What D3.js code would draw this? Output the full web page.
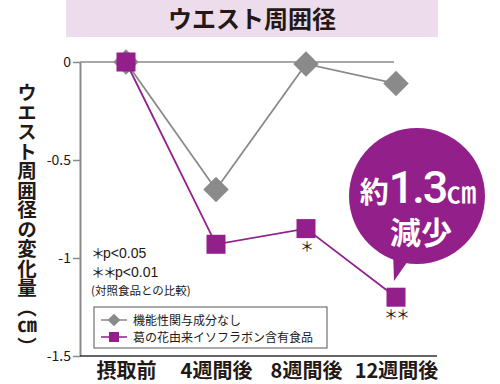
<!DOCTYPE html>
<html><head><meta charset="utf-8">
<script src="https://cdn.jsdelivr.net/npm/d3@7"></script>
<style>
html,body{margin:0;padding:0;background:#fff;}
text{font-family:"Noto Sans CJK JP","Noto Sans",sans-serif;}
</style></head>
<body>
<svg id="c" width="500" height="384"></svg>
<script>
const title = "ウエスト周囲径";
const yTitle = "ウエスト周囲径の変化量（㎝）";
const categories = ["摂取前","4週間後","8週間後","12週間後"];
const seriesNames = ["機能性関与成分なし","葛の花由来イソフラボン含有食品"];
const controlValues = [0, -0.65, -0.01, -0.11];
const treatmentValues = [0, -0.93, -0.85, -1.2];
const significance = ["", "", "＊", "＊＊"];
const yTicks = [0, -0.5, -1, -1.5];
const yTickLabels = ["0","-0.5","-1","-1.5"];
const noteStars = ["＊","＊＊"];
const noteTexts = ["p<0.05","p<0.01"];
const noteCompare = "(対照食品との比較)";
const calloutLine1 = ["約","1.3","㎝"];
const calloutLine2 = "減少";

const purple = "#931f8b", grey = "#8a8a8a", dark = "#231815";
const svg = d3.select("#c");

// title band
svg.append("rect").attr("x",66).attr("y",0).attr("width",372).attr("height",37).attr("fill","#eddcec");
svg.append("text").attr("x",252).attr("y",28).attr("text-anchor","middle")
  .attr("font-size",24).attr("font-weight",700).attr("fill",dark).text(title);

const x = d3.scalePoint().domain(categories).range([126,396]);
const y = d3.scaleLinear().domain([0,-1.5]).range([62,356]);

// zero line
svg.append("line").attr("x1",80).attr("x2",394).attr("y1",y(0)).attr("y2",y(0))
  .attr("stroke",grey).attr("stroke-width",1.5);

// y axis
const ya = svg.append("g").attr("transform","translate(80,0)")
  .call(d3.axisLeft(y).tickValues(yTicks).tickFormat((d,i)=>yTickLabels[i]).tickSize(7).tickSizeOuter(0).tickPadding(2));
ya.select(".domain").attr("stroke",grey).attr("stroke-width",2);
ya.selectAll(".tick line").attr("stroke",grey).attr("stroke-width",1.5);
ya.selectAll(".tick text").attr("font-size",14).attr("fill",dark)
  .attr("font-family","'Liberation Sans',Arial,sans-serif");

// baseline
svg.append("line").attr("x1",80).attr("x2",437).attr("y1",y(-1.5)).attr("y2",y(-1.5))
  .attr("stroke","#333").attr("stroke-width",1.5);

// x axis labels
const xa = svg.append("g").attr("transform","translate(0,358)")
  .call(d3.axisBottom(x).tickSize(0).tickPadding(6));
xa.select(".domain").remove();
xa.selectAll(".tick text").attr("font-size",20).attr("font-weight",700).attr("fill",dark)
  .attr("font-family","'Noto Sans CJK JP',sans-serif");

// y title vertical
svg.append("text").attr("x",27).attr("y",83)
  .style("writing-mode","vertical-rl").attr("font-size",19.5).attr("font-weight",700)
  .attr("fill",dark).text(yTitle);

// lines
const line = d3.line().x((d,i)=>x(categories[i])).y(d=>y(d));
svg.append("path").datum(controlValues).attr("d",line).attr("fill","none").attr("stroke",grey).attr("stroke-width",1.8);
svg.append("path").datum(treatmentValues).attr("d",line).attr("fill","none").attr("stroke",purple).attr("stroke-width",1.8);

// diamonds
svg.selectAll(".dia").data(controlValues).join("rect")
  .attr("x",-9).attr("y",-9).attr("width",18).attr("height",18).attr("fill",grey)
  .attr("transform",(d,i)=>`translate(${x(categories[i])},${y(d)}) rotate(45)`);
// squares
svg.selectAll(".sq").data(treatmentValues).join("rect")
  .attr("x",(d,i)=>x(categories[i])-9.5).attr("y",d=>y(d)-9.5)
  .attr("width",19).attr("height",19).attr("fill",purple);

// significance
svg.selectAll(".sig").data(treatmentValues).join("text")
  .attr("x",(d,i)=>x(categories[i])).attr("y",d=>y(d)+22).attr("text-anchor","middle")
  .attr("font-size",14).attr("letter-spacing",-2).attr("fill",dark).text((d,i)=>significance[i]);

// notes
[258,277].forEach((yy,i)=>{
  const t = svg.append("text").attr("x",91).attr("y",yy).attr("fill",dark);
  t.append("tspan").attr("font-size",14).attr("letter-spacing",-2).text(noteStars[i]);
  t.append("tspan").attr("font-size",14).attr("font-family","'Liberation Sans',Arial,sans-serif").text(noteTexts[i]);
});
svg.append("text").attr("x",91).attr("y",295).attr("font-size",11.5).attr("fill",dark).text(noteCompare);

// legend
svg.append("rect").attr("x",94).attr("y",307).attr("width",233).attr("height",41)
  .attr("fill","#fff").attr("stroke","#555").attr("stroke-width",1);
const lg = [{c:grey,shape:"d",yy:320},{c:purple,shape:"s",yy:337}];
lg.forEach((l,i)=>{
  svg.append("line").attr("x1",101).attr("x2",127).attr("y1",l.yy).attr("y2",l.yy).attr("stroke",l.c).attr("stroke-width",1.5);
  if(l.shape==="d"){
    svg.append("rect").attr("x",-4.5).attr("y",-4.5).attr("width",9).attr("height",9).attr("fill",l.c)
      .attr("transform",`translate(114,${l.yy}) rotate(45)`);
  } else {
    svg.append("rect").attr("x",109).attr("y",l.yy-5).attr("width",10).attr("height",10).attr("fill",l.c);
  }
  svg.append("text").attr("x",133).attr("y",l.yy+4.5).attr("font-size",12).attr("fill",dark).text(seriesNames[i]);
});

// callout bubble
svg.append("path").attr("d","M393,250 L394,281 L410,258 Z").attr("fill",purple);
svg.append("circle").attr("cx",417).attr("cy",196).attr("r",68).attr("fill",purple);
const t1 = svg.append("text").attr("x",418).attr("y",203).attr("text-anchor","middle")
  .attr("fill","#fff").attr("font-weight",700);
t1.append("tspan").attr("font-size",29).text(calloutLine1[0]);
t1.append("tspan").attr("font-size",45).attr("font-weight",500).attr("letter-spacing",-2)
  .attr("font-family","'Liberation Sans Narrow','Roboto',sans-serif").text(calloutLine1[1]);
t1.append("tspan").attr("font-size",30).attr("font-weight",500).text(calloutLine1[2]);
svg.append("text").attr("x",421).attr("y",244).attr("text-anchor","middle").attr("fill","#fff")
  .attr("font-size",31).attr("font-weight",700).text(calloutLine2);
</script>
</body></html>
